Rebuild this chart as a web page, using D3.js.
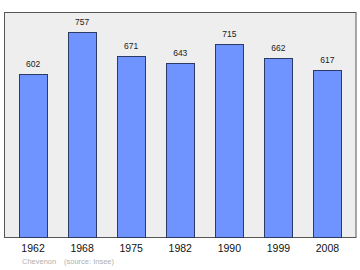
<!DOCTYPE html>
<html><head><meta charset="utf-8">
<script src="https://cdn.jsdelivr.net/npm/d3@7"></script>
<style>body{margin:0;background:#fff}svg{display:block}</style>
</head><body>
<script>
const years = ["1962","1968","1975","1982","1990","1999","2008"];
const population = [602,757,671,643,715,662,617];
const footerName = "Chevenon";
const footerSource = "(source: Insee)";

const W=360,H=270;
const FONT="Liberation Sans, Arial, sans-serif";
const frame={left:4.5,top:12.5,right:356,bottom:237.5};
const svg=d3.select("body").append("svg").attr("width",W).attr("height",H);

svg.append("rect").attr("x",frame.left).attr("y",frame.top)
  .attr("width",frame.right-frame.left).attr("height",frame.bottom-frame.top)
  .attr("fill","#eeeeee").attr("stroke","#555").attr("stroke-width",1);

const x=d3.scaleBand().domain(years).range([frame.left,frame.right]).paddingInner(0.4286).paddingOuter(0.296);
const y=d3.scaleLinear().domain([0,830]).range([frame.bottom,frame.top]);

svg.selectAll("rect.bar").data(population).enter().append("rect").attr("class","bar")
  .attr("x",(d,i)=>Math.round(x(years[i]))+0.5).attr("y",d=>Math.round(y(d))+0.5)
  .attr("width",Math.round(x.bandwidth())).attr("height",d=>frame.bottom-Math.round(y(d))-0.5)
  .attr("fill","#7094ff").attr("stroke","#2b3a66").attr("stroke-width",1);

svg.selectAll("text.val").data(population).enter().append("text").attr("class","val")
  .attr("x",(d,i)=>x(years[i])+x.bandwidth()/2).attr("y",d=>y(d)-7)
  .attr("text-anchor","middle").attr("font-family",FONT)
  .attr("font-size",8.5).attr("fill","#222").text(d=>d);

const ax=svg.append("g").attr("transform",`translate(0,${frame.bottom})`)
  .call(d3.axisBottom(x).tickSize(0).tickPadding(7));
ax.select(".domain").remove();
ax.selectAll("text").attr("font-family",FONT).attr("font-size",10.5).attr("fill","#111");

svg.append("text").attr("x",22).attr("y",264).attr("font-family",FONT)
  .attr("font-size",7.5).attr("fill","#b0b0b0").text(footerName);
svg.append("text").attr("x",64).attr("y",264).attr("font-family",FONT)
  .attr("font-size",7.5).attr("fill","#b0b0b0").text(footerSource);
</script>
</body></html>
